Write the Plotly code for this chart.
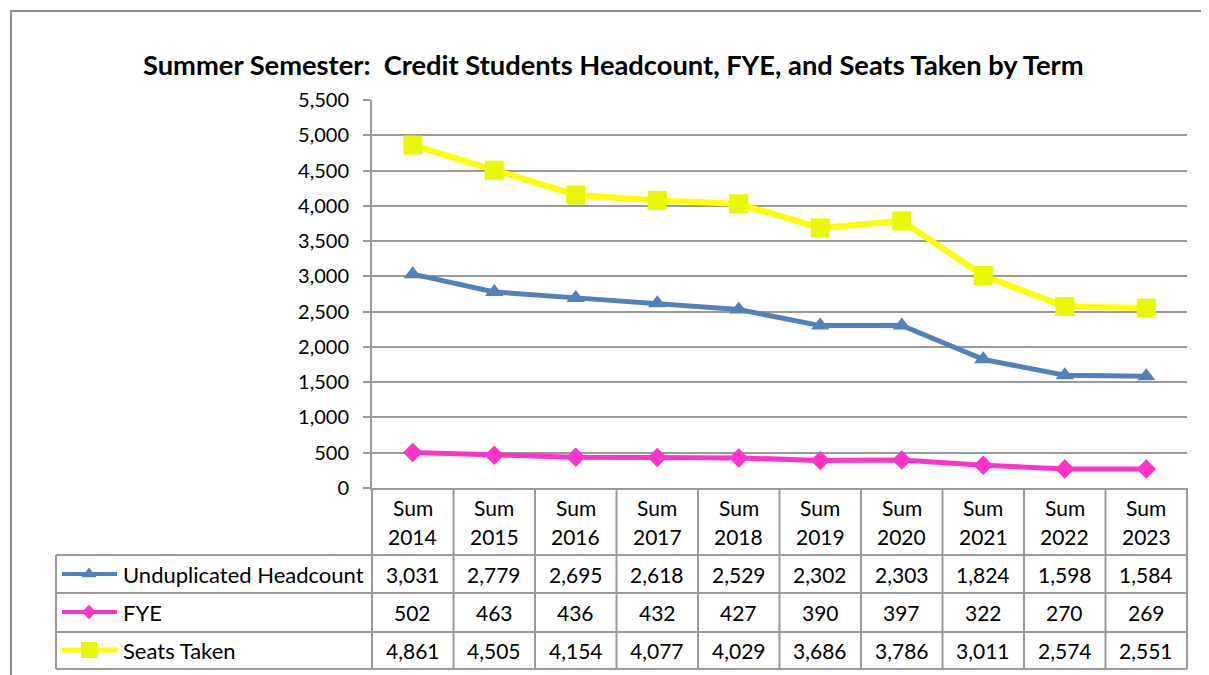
"""Summer semester headcount / FYE / seats chart with an Excel-style data table."""

import plotly.graph_objects as go

W, H = 1209, 675
OFF = 8  # page body margin in the browser

terms = ["Sum 2014", "Sum 2015", "Sum 2016", "Sum 2017", "Sum 2018",
         "Sum 2019", "Sum 2020", "Sum 2021", "Sum 2022", "Sum 2023"]
headcount = [3031, 2779, 2695, 2618, 2529, 2302, 2303, 1824, 1598, 1584]
fye = [502, 463, 436, 432, 427, 390, 397, 322, 270, 269]
seats = [4861, 4505, 4154, 4077, 4029, 3686, 3786, 3011, 2574, 2551]
y_ticks = list(range(0, 5501, 500))

# name, values, line colour, marker colour, symbol, marker size, key size, line width
series = [
    ("Unduplicated Headcount", headcount, "#4F81BD", "#4F81BD", "triangle-up", 16, 13, 5),
    ("FYE", fye, "#FF33CC", "#FF33CC", "diamond", 15, 11, 5),
    ("Seats Taken", seats, "#FFFF00", "#E8F800", "square", 19, 16, 6),
]

FONT = "Lato"
GRID = "#9A9A9A"

# plot area / table geometry in (screen) pixels
PX0, PX1 = 372, 1187
PY0, PY1 = 100, 488
TBL_LEFT = 56
ROW_LINES = [555, 593, 632, 669]
ROW_MID = [574, 612, 650]


def dx(x):
    return (x - OFF) / (W - OFF)


def dy(y):
    return 1 - (y - OFF) / (H - OFF)


fig = go.Figure()

for name, vals, lc, mc, sym, size, ksize, lw in series:
    fig.add_scatter(x=terms, y=vals, mode="lines+markers", name=name,
                    line=dict(color=lc, width=lw),
                    marker=dict(symbol=sym, size=size, color=mc),
                    showlegend=False, hoverinfo="x+y+name")

# legend keys inside the table (pixel overlay axes)
for (name, vals, lc, mc, sym, size, ksize, lw), ym in zip(series, ROW_MID):
    fig.add_scatter(x=[62, 117], y=[ym, ym], mode="lines", xaxis="x2", yaxis="y2",
                    line=dict(color=lc, width=lw - 1), showlegend=False, hoverinfo="skip")
    fig.add_scatter(x=[89], y=[ym], mode="markers", xaxis="x2", yaxis="y2",
                    marker=dict(symbol=sym, size=ksize, color=mc),
                    showlegend=False, hoverinfo="skip")

shapes = []


def line(x0, y0, x1, y1, color=GRID, width=2):
    shapes.append(dict(type="line", xref="x2", yref="y2", x0=x0, y0=y0, x1=x1, y1=y1,
                       line=dict(color=color, width=width), layer="above"))


# outer chart frame
shapes.append(dict(type="rect", xref="x2", yref="y2", x0=11, y0=11, x1=1230, y1=700,
                   line=dict(color="#8C8C8C", width=2), layer="below"))

# table grid
col_w = (PX1 - PX0) / len(terms)
for i in range(len(terms) + 1):
    x = PX0 + i * col_w
    line(x, PY1, x, ROW_LINES[-1])
line(TBL_LEFT, ROW_LINES[0], TBL_LEFT, ROW_LINES[-1])
for y in ROW_LINES:
    line(TBL_LEFT, y, PX1, y)

annotations = [dict(text="<b>Summer Semester:  Credit Students Headcount, FYE, and Seats Taken by Term</b>",
                    xref="x2", yref="y2", x=613, y=64, showarrow=False,
                    font=dict(family=FONT, size=27.3, color="black"))]

for t in terms:
    word, year = t.split()
    annotations.append(dict(text=word, xref="x", yref="y2", x=t, y=507, showarrow=False,
                            font=dict(family=FONT, size=21, color="black")))
    annotations.append(dict(text=year, xref="x", yref="y2", x=t, y=536, showarrow=False,
                            font=dict(family=FONT, size=21, color="black")))

for (name, vals, *_), ym in zip(series, ROW_MID):
    annotations.append(dict(text=name, xref="x2", yref="y2", x=121, y=ym, xanchor="left",
                            showarrow=False, font=dict(family=FONT, size=22, color="black")))
    for t, v in zip(terms, vals):
        annotations.append(dict(text=f"{v:,}", xref="x", yref="y2", x=t, y=ym,
                                showarrow=False, font=dict(family=FONT, size=21, color="black")))

fig.update_layout(
    width=W - OFF, height=H - OFF,
    margin=dict(l=0, r=0, t=0, b=0, pad=0, autoexpand=False),
    paper_bgcolor="white", plot_bgcolor="rgba(0,0,0,0)",
    font=dict(family=FONT, size=20, color="black"),
    xaxis=dict(domain=[dx(PX0), dx(PX1)], type="category", range=[-0.5, 9.5],
               showticklabels=False, showgrid=False, zeroline=False, automargin=False,
               showline=True, linecolor=GRID, linewidth=2, fixedrange=True),
    yaxis=dict(domain=[dy(PY1), dy(PY0)], range=[0, 5500], tickvals=y_ticks,
               tickformat=",", showgrid=True, gridcolor=GRID, gridwidth=1.5,
               zeroline=False, showline=True, linecolor=GRID, linewidth=2,
               ticks="outside", ticklen=7, tickcolor=GRID, tickwidth=1.5, automargin=False,
               ticklabelstandoff=10, tickfont=dict(family=FONT, size=20), fixedrange=True),
    xaxis2=dict(domain=[0, 1], range=[OFF, W], visible=False, fixedrange=True,
                automargin=False, anchor="y2"),
    yaxis2=dict(domain=[0, 1], range=[H, OFF], visible=False, fixedrange=True,
                automargin=False, anchor="x2"),
    shapes=shapes,
    annotations=annotations,
)

fig.write_html("out.html")
